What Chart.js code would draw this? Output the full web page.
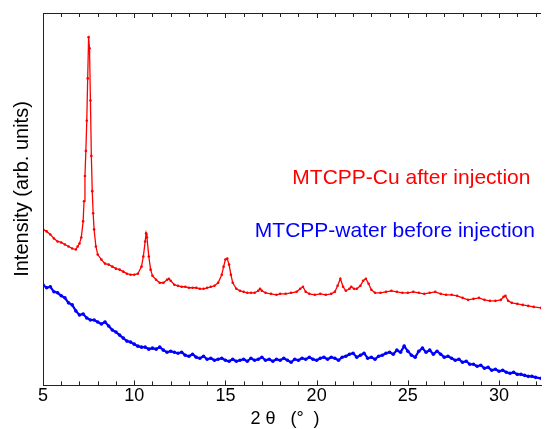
<!DOCTYPE html>
<html lang="en">
<head>
  <meta charset="UTF-8">
  <title>XRD MTCPP</title>
  <script src="https://cdn.jsdelivr.net/npm/chart.js"></script>
  <style>
    body { margin: 0; padding: 0; background: #fff; }
    #wrap { width: 545px; height: 429px; position: relative; }
  </style>
</head>
<body>
  <div id="wrap"><canvas id="xrd"></canvas></div>
  <script>
    // 2theta values and intensities (arbitrary units)
    const cuX = [5.0, 5.2, 5.4, 5.6, 5.8, 6.0, 6.2, 6.4, 6.6, 6.8, 6.9, 7.0, 7.1, 7.2, 7.25, 7.3, 7.35, 7.4, 7.45, 7.5,
      7.55, 7.6, 7.65, 7.7, 7.75, 7.8, 7.9, 8.0, 8.2, 8.4, 8.6, 8.8, 9.0, 9.2, 9.4, 9.6, 9.8, 10.0, 10.2, 10.4,
      10.5, 10.6, 10.65, 10.7, 10.8, 10.9, 11.0, 11.2, 11.4, 11.6, 11.8, 11.9, 12.0, 12.2, 12.4, 12.6, 12.8, 13.0, 13.2, 13.4,
      13.6, 13.8, 14.0, 14.2, 14.4, 14.6, 14.8, 14.9, 15.0, 15.1, 15.2, 15.3, 15.4, 15.6, 15.8, 16.0, 16.2, 16.4, 16.6, 16.8,
      16.9, 17.0, 17.2, 17.5, 17.8, 18.0, 18.3, 18.6, 18.9, 19.1, 19.25, 19.4, 19.6, 19.9, 20.2, 20.5, 20.8, 21.0, 21.15, 21.3,
      21.45, 21.6, 21.8, 21.9, 22.05, 22.2, 22.4, 22.55, 22.7, 22.85, 23.0, 23.2, 23.5, 23.8, 24.1, 24.4, 24.7, 25.0, 25.3, 25.6,
      25.9, 26.2, 26.5, 26.8, 27.1, 27.4, 27.7, 28.0, 28.3, 28.6, 28.9, 29.2, 29.5, 29.8, 30.1, 30.25, 30.35, 30.5, 30.7, 31.0,
      31.3, 31.6, 31.9, 32.3];
    const cuY = [155, 153, 150, 146, 143, 142, 140, 138, 136, 135, 138, 141, 147, 163, 183, 208, 233, 263, 305, 346,
      335, 283, 228, 193, 171, 155, 138, 130, 125, 121, 120, 118, 116, 115, 113, 111, 110, 110, 111, 118,
      128, 143, 151, 147, 128, 115, 109, 105, 102, 102, 105, 106, 104, 100, 99, 98, 98, 97, 97, 97,
      96, 96, 97, 98, 99, 102, 110, 118, 125, 126, 120, 110, 102, 96, 94, 93, 92, 92, 92, 94,
      96, 94, 92, 91, 90, 91, 91, 92, 93, 96, 98, 93, 91, 90, 91, 90, 91, 93, 99, 106,
      98, 94, 96, 98, 96, 96, 99, 104, 106, 101, 95, 92, 92, 93, 94, 93, 92, 92, 93, 92,
      91, 92, 93, 91, 90, 90, 89, 87, 85, 86, 87, 85, 84, 84, 85, 88, 89, 84, 82, 81,
      80, 79, 78, 77];

    const waterX = [5.0, 5.2, 5.4, 5.6, 5.8, 6.0, 6.2, 6.4, 6.6, 6.8, 7.0, 7.2, 7.4, 7.6, 7.8, 8.0, 8.2, 8.4, 8.6, 8.8,
      9.0, 9.2, 9.4, 9.6, 9.8, 10.0, 10.2, 10.4, 10.6, 10.8, 11.0, 11.2, 11.4, 11.6, 11.8, 12.0, 12.2, 12.4, 12.6, 12.8,
      13.0, 13.2, 13.4, 13.6, 13.8, 14.0, 14.2, 14.4, 14.6, 14.8, 15.0, 15.2, 15.4, 15.6, 15.8, 16.0, 16.2, 16.4, 16.6, 16.8,
      17.0, 17.2, 17.4, 17.6, 17.8, 18.0, 18.2, 18.4, 18.6, 18.8, 19.0, 19.2, 19.4, 19.6, 19.8, 20.0, 20.2, 20.4, 20.6, 20.8,
      21.0, 21.2, 21.4, 21.6, 21.8, 22.0, 22.2, 22.4, 22.6, 22.8, 23.0, 23.2, 23.4, 23.6, 23.8, 24.0, 24.2, 24.4, 24.6, 24.8,
      25.0, 25.2, 25.4, 25.6, 25.8, 26.0, 26.2, 26.4, 26.6, 26.8, 27.0, 27.2, 27.4, 27.6, 27.8, 28.0, 28.2, 28.4, 28.6, 28.8,
      29.0, 29.2, 29.4, 29.6, 29.8, 30.0, 30.2, 30.4, 30.6, 30.8, 31.0, 31.2, 31.4, 31.6, 31.8, 32.0, 32.3];
    const waterY = [100, 97, 98, 93, 92, 89, 87, 82, 80, 74, 70, 71, 67, 65, 65, 63, 61, 63, 59, 55,
      53, 50, 47, 44, 43, 41, 39, 38, 38, 36, 37, 36, 38, 35, 33, 34, 33, 32, 33, 30,
      29, 31, 28, 27, 29, 26, 27, 25, 26, 27, 25, 24, 26, 24, 25, 26, 24, 27, 25, 26,
      28, 25, 26, 24, 26, 25, 27, 25, 23, 26, 25, 27, 26, 28, 26, 25, 27, 28, 26, 28,
      27, 25, 28, 29, 31, 32, 28, 30, 32, 27, 28, 26, 29, 30, 32, 33, 31, 35, 33, 39,
      34, 30, 28, 34, 37, 33, 35, 31, 34, 31, 28, 29, 27, 25, 26, 23, 24, 21, 21, 19,
      20, 17, 18, 15, 16, 14, 15, 13, 12, 13, 11, 11, 10, 9, 9, 8, 7];

    const xTicks = [5, 10, 15, 20, 25, 30];
    const seriesNames = ['MTCPP-Cu after injection', 'MTCPP-water before injection'];
    const xTitle = '2 θ   (°  )';
    const yTitle = 'Intensity (arb. units)';

    const FONT = 'Arial, "Liberation Sans", sans-serif';

    // frame, inward ticks, axis titles and series labels
    const framePlugin = {
      id: 'frame',
      afterDraw(chart) {
        const ctx = chart.ctx;
        const a = chart.chartArea;
        const xs = chart.scales.x;
        const ys = chart.scales.y;
        ctx.save();
        ctx.strokeStyle = '#222';
        ctx.lineWidth = 1;
        ctx.beginPath();
        ctx.moveTo(a.left + 0.5, a.bottom);
        ctx.lineTo(a.left + 0.5, a.top + 0.5);
        ctx.lineTo(a.right, a.top + 0.5);
        ctx.stroke();
        for (let v = 5; v <= 32; v++) {
          const px = Math.round(xs.getPixelForValue(v)) + 0.5;
          const len = v % 5 === 0 ? 5 : 4;
          ctx.beginPath();
          ctx.moveTo(px, a.bottom);
          ctx.lineTo(px, a.bottom - len);
          ctx.moveTo(px, a.top);
          ctx.lineTo(px, a.top + len);
          ctx.stroke();
        }
        ctx.fillStyle = '#000';
        ctx.textAlign = 'center';
        ctx.textBaseline = 'middle';
        ctx.font = '18px ' + FONT;
        ctx.fillText(xTitle, 285, 419);
        ctx.save();
        ctx.translate(22, 189);
        ctx.rotate(-Math.PI / 2);
        ctx.font = '20px ' + FONT;
        ctx.fillText(yTitle, 0, 0);
        ctx.restore();

        ctx.font = '21px ' + FONT;
        ctx.textAlign = 'right';
        ctx.fillStyle = '#ff0000';
        ctx.fillText(seriesNames[0], xs.getPixelForValue(31.72), ys.getPixelForValue(206));
        ctx.fillStyle = '#0000ff';
        ctx.fillText(seriesNames[1], xs.getPixelForValue(31.97), ys.getPixelForValue(153));
        ctx.restore();
      }
    };

    const toPts = (xs, ys) => xs.map((x, i) => ({ x: x, y: ys[i] }));

    new Chart(document.getElementById('xrd'), {
      type: 'line',
      data: {
        datasets: [{
          label: seriesNames[0],
          data: toPts(cuX, cuY),
          borderColor: '#ff0000',
          backgroundColor: '#ff0000',
          borderWidth: 1.3,
          pointRadius: 1.3,
          pointBorderWidth: 0,
          tension: 0
        }, {
          label: seriesNames[1],
          data: toPts(waterX, waterY),
          borderColor: '#0000ff',
          backgroundColor: '#0000ff',
          borderWidth: 2.2,
          pointRadius: 1.8,
          pointBorderWidth: 0,
          tension: 0
        }]
      },
      options: {
        responsive: true,
        maintainAspectRatio: false,
        animation: false,
        layout: { padding: { left: 43, top: 13, right: 0, bottom: 22 } },
        plugins: { legend: { display: false }, tooltip: { enabled: false } },
        scales: {
          x: {
            type: 'linear',
            min: 5,
            max: 32.3,
            afterBuildTicks: (scale) => { scale.ticks = xTicks.map(v => ({ value: v })); },
            grid: { display: false, drawTicks: false },
            border: { display: true, color: '#222', width: 1 },
            ticks: { color: '#000', font: { size: 18, family: FONT }, padding: 0, maxRotation: 0 }
          },
          y: {
            display: false,
            min: 0,
            max: 370
          }
        }
      },
      plugins: [framePlugin]
    });
  </script>
</body>
</html>
